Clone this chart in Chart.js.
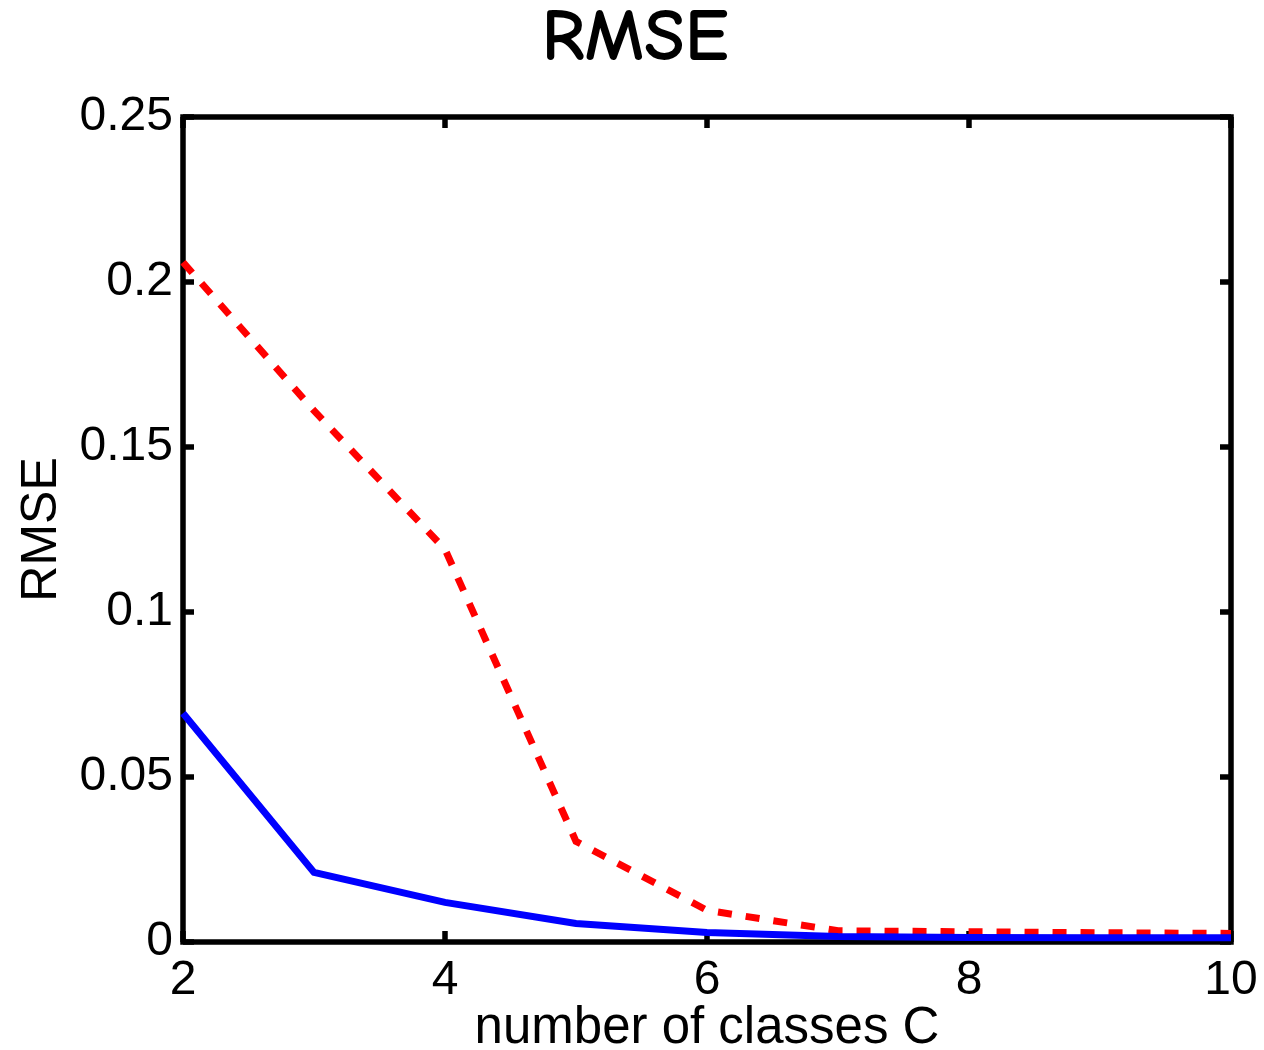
<!DOCTYPE html>
<html>
<head>
<meta charset="utf-8">
<title>RMSE</title>
<script src="https://cdn.jsdelivr.net/npm/chart.js@4.4.1/dist/chart.umd.min.js"></script>
<style>
  html, body { margin: 0; padding: 0; background: #fff; }
  #wrap { width: 1264px; height: 1050px; }
</style>
</head>
<body>
<div id="wrap"><canvas id="rmseChart" width="1264" height="1050"></canvas></div>
<script>
// number of classes C
const classes = [2, 3, 4, 5, 6, 7, 8, 9, 10];
// RMSE values
const rmseBlue = [0.0693, 0.0211, 0.0120, 0.0056, 0.0029, 0.0017, 0.0014, 0.0013, 0.0013];
const rmseRed  = [0.2060, 0.1610, 0.1190, 0.0305, 0.0096, 0.0034, 0.0031, 0.0028, 0.0026];
// tick labels
const xTicks = [2, 4, 6, 8, 10];
const yTicks = [0, 0.05, 0.1, 0.15, 0.2, 0.25];

const sans = '"Liberation Sans", Arial, Helvetica, sans-serif';

// matlab style box with inward ticks on all four sides
const boxPlugin = {
    id: 'box',
    beforeDatasetsDraw(chart) {
        const { ctx, chartArea: a, scales: { x, y } } = chart;
        const len = 11;
        ctx.save();
        ctx.strokeStyle = '#000';
        ctx.lineWidth = 5.5;
        ctx.strokeRect(a.left, a.top, a.right - a.left, a.bottom - a.top);
        ctx.beginPath();
        xTicks.forEach(v => {
            const px = x.getPixelForValue(v);
            ctx.moveTo(px, a.bottom); ctx.lineTo(px, a.bottom - len);
            ctx.moveTo(px, a.top); ctx.lineTo(px, a.top + len);
        });
        yTicks.forEach(v => {
            const py = y.getPixelForValue(v);
            ctx.moveTo(a.left, py); ctx.lineTo(a.left + len, py);
            ctx.moveTo(a.right, py); ctx.lineTo(a.right - len, py);
        });
        ctx.stroke();
        ctx.restore();
    }
};

new Chart(document.getElementById('rmseChart'), {
    type: 'line',
    data: {
        datasets: [
            {
                label: 'blue',
                data: classes.map((c, i) => ({ x: c, y: rmseBlue[i] })),
                borderColor: '#0000ff',
                borderWidth: 7,
                pointRadius: 0,
                tension: 0,
                clip: false,
                order: 0
            },
            {
                label: 'red',
                data: classes.map((c, i) => ({ x: c, y: rmseRed[i] })),
                borderColor: '#ff0000',
                borderWidth: 7,
                borderDash: [14, 14],
                borderCapStyle: 'butt',
                pointRadius: 0,
                tension: 0,
                clip: false,
                order: 1
            }
        ]
    },
    options: {
        responsive: false,
        animation: false,
        devicePixelRatio: 1,
        layout: { padding: { left: 39, right: 33 } },
        plugins: {
            legend: { display: false },
            tooltip: { enabled: false },
            title: {
                display: true,
                text: 'RMSE',
                color: '#000',
                font: { family: '"Comic Sans MS", "Comic Neue", "Noto Sans", sans-serif', size: 74, weight: '600', lineHeight: 1 },
                padding: { top: 2, bottom: 41 }
            }
        },
        scales: {
            x: {
                type: 'linear',
                min: 2,
                max: 10,
                afterBuildTicks: s => { s.ticks = xTicks.map(v => ({ value: v })); },
                afterFit: s => { s.height = 108; s.paddingLeft = 0; s.paddingRight = 0; },
                grid: { display: false, drawTicks: false },
                border: { display: false },
                ticks: {
                    padding: 10,
                    color: '#000',
                    maxRotation: 0,
                    autoSkip: false,
                    font: { family: sans, size: 48 },
                    callback: v => String(v)
                },
                title: {
                    display: true,
                    text: 'number of classes C',
                    color: '#000',
                    font: { family: sans, size: 51, lineHeight: 0.84 },
                    padding: 0
                }
            },
            y: {
                type: 'linear',
                min: 0,
                max: 0.25,
                afterBuildTicks: s => { s.ticks = yTicks.map(v => ({ value: v })); },
                afterFit: s => { s.width = 144; },
                grid: { display: false, drawTicks: false },
                border: { display: false },
                ticks: {
                    padding: 10,
                    color: '#000',
                    autoSkip: false,
                    font: { family: sans, size: 48 },
                    callback: v => String(v)
                },
                title: {
                    display: true,
                    text: 'RMSE',
                    color: '#000',
                    font: { family: sans, size: 50, lineHeight: 1 },
                    padding: { top: -22, bottom: 0 }
                }
            }
        }
    },
    plugins: [boxPlugin]
});
</script>
</body>
</html>
